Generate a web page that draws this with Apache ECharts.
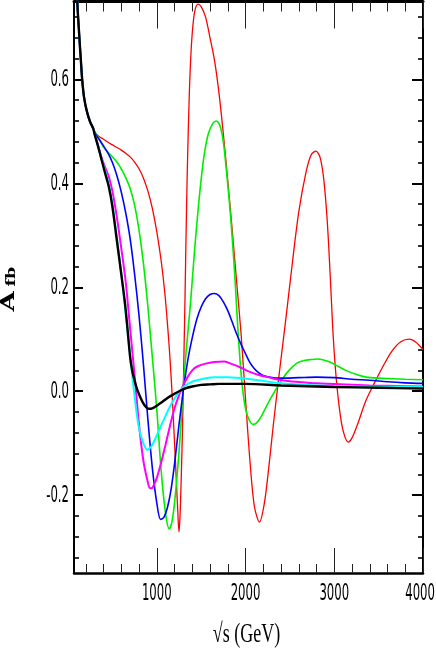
<!DOCTYPE html>
<html><head><meta charset="utf-8">
<script src="https://cdn.jsdelivr.net/npm/echarts@6/dist/echarts.min.js"></script>
<style>html,body{margin:0;padding:0;background:#fff;}#c{width:436px;height:654px;}</style>
</head><body><div id="c"></div>
<script>
// ---- axis ranges and ticks ----
const X_MIN = 67, X_MAX = 4000, Y_MIN = -0.35, Y_MAX = 0.75;
const xMajorTicks = [1000, 2000, 3000, 4000];
const xMinorTicks = [200, 400, 600, 800, 1200, 1400, 1600, 1800, 2200, 2400, 2600, 2800, 3200, 3400, 3600, 3800];
const yMajorTicks = [-0.2, 0.0, 0.2, 0.4, 0.6];
const yMinorTicks = [-0.32, -0.28, -0.24, -0.16, -0.12, -0.08, -0.04, 0.04, 0.08, 0.12, 0.16, 0.24, 0.28, 0.32, 0.36, 0.44, 0.48, 0.52, 0.56, 0.64, 0.68, 0.72];
const xTickLabels = ['1000', '2000', '3000', '4000'];
const yTickLabels = ['-0.2', '0.0', '0.2', '0.4', '0.6'];
const xAxisTitle = '√s (GeV)';
const yAxisTitleMain = 'A';
const yAxisTitleSub = 'fb';

// ---- curves: [sqrt(s) GeV, A_fb] ----
const common = [[75,1.1],[90,0.87],[104,0.751],[125,0.688],[145,0.635],[160,0.598],[180,0.566],[210,0.54],[247,0.519],[285,0.505]];
const red = [[300,0.498],[350,0.49],[400,0.485],[450,0.479],[500,0.474],[550,0.469],[600,0.464],[650,0.458],[700,0.451],[750,0.441],[800,0.428],[850,0.41],[900,0.385],[950,0.352],[1000,0.307],[1050,0.25],[1090,0.19],[1120,0.13],[1150,0.06],[1180,-0.03],[1210,-0.135],[1235,-0.225],[1250,-0.271],[1262,-0.24],[1275,-0.17],[1290,-0.07],[1305,0.06],[1320,0.2],[1335,0.35],[1350,0.47],[1367,0.575],[1385,0.65],[1405,0.7],[1430,0.733],[1465,0.745],[1500,0.74],[1550,0.72],[1600,0.68],[1650,0.637],[1700,0.575],[1750,0.495],[1800,0.405],[1850,0.31],[1900,0.21],[1950,0.11],[2000,-0.015],[2050,-0.135],[2100,-0.222],[2157,-0.252],[2210,-0.218],[2260,-0.15],[2310,-0.07],[2380,0.034],[2455,0.14],[2530,0.25],[2600,0.345],[2680,0.42],[2740,0.455],[2794,0.462],[2840,0.45],[2880,0.41],[2920,0.33],[2955,0.22],[2990,0.1],[3030,0.01],[3080,-0.06],[3120,-0.088],[3158,-0.098],[3200,-0.09],[3260,-0.065],[3357,-0.018],[3450,0.015],[3550,0.048],[3650,0.077],[3750,0.095],[3846,0.1],[3920,0.094],[4000,0.08]];
const green = [[300,0.5],[350,0.485],[400,0.47],[450,0.46],[500,0.451],[550,0.441],[600,0.428],[650,0.411],[700,0.39],[750,0.358],[800,0.31],[850,0.245],[900,0.162],[950,0.065],[1000,-0.035],[1050,-0.155],[1100,-0.237],[1141,-0.265],[1170,-0.252],[1200,-0.215],[1240,-0.14],[1270,-0.07],[1295,0.0],[1330,0.075],[1380,0.17],[1430,0.28],[1480,0.375],[1530,0.45],[1580,0.495],[1630,0.515],[1670,0.52],[1710,0.512],[1750,0.48],[1790,0.415],[1820,0.36],[1850,0.295],[1880,0.22],[1910,0.13],[1940,0.055],[1970,0.0],[2000,-0.033],[2040,-0.055],[2087,-0.064],[2130,-0.06],[2180,-0.048],[2230,-0.031],[2290,-0.012],[2350,0.006],[2420,0.025],[2500,0.042],[2580,0.054],[2660,0.059],[2740,0.061],[2813,0.062],[2880,0.06],[2950,0.056],[3040,0.048],[3130,0.04],[3250,0.032],[3360,0.027],[3500,0.025],[3660,0.024],[3800,0.023],[4000,0.022]];
const blue = [[300,0.497],[350,0.485],[400,0.472],[450,0.458],[500,0.44],[550,0.415],[600,0.383],[650,0.343],[700,0.293],[750,0.225],[800,0.145],[850,0.05],[900,-0.055],[950,-0.148],[1000,-0.215],[1043,-0.247],[1080,-0.243],[1120,-0.224],[1160,-0.19],[1200,-0.14],[1250,-0.065],[1298,0.0],[1350,0.06],[1400,0.103],[1450,0.138],[1500,0.162],[1550,0.178],[1600,0.186],[1650,0.188],[1700,0.184],[1750,0.172],[1800,0.155],[1850,0.133],[1900,0.11],[1950,0.09],[2000,0.072],[2050,0.055],[2100,0.043],[2150,0.035],[2200,0.03],[2300,0.026],[2400,0.025],[2600,0.026],[2800,0.027],[3000,0.026],[3200,0.023],[3400,0.021],[3600,0.018],[3800,0.016],[4000,0.015]];
const magenta = [[300,0.496],[340,0.472],[380,0.448],[420,0.43],[460,0.412],[500,0.385],[550,0.335],[600,0.275],[650,0.21],[700,0.12],[750,0.03],[800,-0.065],[850,-0.135],[900,-0.176],[923,-0.187],[950,-0.186],[1000,-0.167],[1050,-0.137],[1100,-0.102],[1150,-0.066],[1200,-0.033],[1250,-0.008],[1300,0.012],[1350,0.028],[1400,0.04],[1450,0.047],[1550,0.053],[1650,0.056],[1760,0.057],[1850,0.052],[1950,0.045],[2050,0.037],[2150,0.031],[2250,0.027],[2350,0.023],[2500,0.019],[2650,0.017],[2800,0.015],[3000,0.014],[3400,0.011],[3700,0.01],[4000,0.009]];
const cyan = [[300,0.494],[340,0.47],[380,0.445],[420,0.423],[460,0.397],[500,0.36],[550,0.295],[600,0.226],[650,0.148],[700,0.068],[740,0.005],[773,-0.042],[800,-0.072],[850,-0.101],[893,-0.113],[950,-0.103],[1000,-0.085],[1050,-0.066],[1100,-0.047],[1150,-0.029],[1200,-0.014],[1250,-0.002],[1300,0.008],[1370,0.016],[1450,0.021],[1550,0.025],[1650,0.027],[1800,0.027],[1900,0.026],[2150,0.021],[2400,0.015],[2800,0.011],[3200,0.009],[3600,0.0085],[4000,0.008]];
const black = [[300,0.494],[340,0.47],[380,0.444],[420,0.418],[460,0.393],[500,0.355],[550,0.29],[600,0.225],[641,0.17],[670,0.12],[698,0.068],[720,0.042],[740,0.027],[770,0.008],[800,-0.006],[840,-0.021],[880,-0.031],[910,-0.034],[950,-0.033],[1000,-0.028],[1060,-0.021],[1120,-0.013],[1200,-0.005],[1300,0.004],[1400,0.009],[1500,0.012],[1600,0.013],[1700,0.014],[2000,0.014],[2400,0.011],[3000,0.008],[3500,0.0065],[4000,0.005]];

const curves = [
  {name: 'red', data: red, color: '#ff0000', width: 1.3},
  {name: 'green', data: green, color: '#00ee00', width: 1.6},
  {name: 'blue', data: blue, color: '#0000ff', width: 1.6},
  {name: 'magenta', data: magenta, color: '#ff00ff', width: 2},
  {name: 'cyan', data: cyan, color: '#00ffff', width: 2},
  {name: 'black', data: black, color: '#000000', width: 2.4}
];

const chart = echarts.init(document.getElementById('c'), null, {renderer: 'canvas'});

function mkX(pos, ticks, len, line, lw) {
  return {type: 'value', min: X_MIN, max: X_MAX, position: pos,
    axisLine: {show: line, onZero: false, lineStyle: {color: '#000', width: lw}},
    axisTick: {show: true, inside: true, length: len, customValues: ticks, lineStyle: {color: '#222', width: 1}},
    axisLabel: {show: false}, splitLine: {show: false}, minorTick: {show: false}};
}
function mkY(pos, ticks, len, line, lw, tw) {
  return {type: 'value', min: Y_MIN, max: Y_MAX, position: pos,
    axisLine: {show: line, onZero: false, lineStyle: {color: '#000', width: lw}},
    axisTick: {show: true, inside: true, length: len, customValues: ticks, lineStyle: {color: '#000', width: tw}},
    axisLabel: {show: false}, splitLine: {show: false}, minorTick: {show: false}};
}

const option = {
  animation: false,
  backgroundColor: '#fff',
  grid: {left: 74, right: 13, top: 1.5, bottom: 81, containLabel: false},
  xAxis: [
    mkX('bottom', xMajorTicks, 25, true, 2.5),
    mkX('bottom', xMinorTicks, 9, false, 1),
    mkX('top', xMajorTicks, 27, true, 3),
    mkX('top', xMinorTicks, 10, false, 1)
  ],
  yAxis: [
    mkY('left', yMajorTicks, 9, true, 2, 2),
    mkY('left', yMinorTicks, 5, false, 1, 1.6),
    mkY('right', yMajorTicks, 11, true, 2, 2),
    mkY('right', yMinorTicks, 5, false, 1, 1.6)
  ],
  series: curves.map(c => ({
    name: c.name, type: 'line', xAxisIndex: 0, yAxisIndex: 0,
    data: common.concat(c.data), showSymbol: false, smooth: 0.3, clip: true, silent: true,
    lineStyle: {color: c.color, width: c.width}
  }))
};
chart.setOption(option);

// tick labels and axis titles (real text, placed from the axis scales)
const labelFont = '"Liberation Sans Narrow", "DejaVu Sans Condensed", "Arial Narrow", sans-serif';
const yBottom = chart.convertToPixel({yAxisIndex: 0}, Y_MIN);
const yTop = chart.convertToPixel({yAxisIndex: 0}, Y_MAX);
const xLeft = chart.convertToPixel({xAxisIndex: 0}, X_MIN);
const xRight = chart.convertToPixel({xAxisIndex: 0}, X_MAX);
const g = [];
xMajorTicks.forEach((v, i) => {
  const last = i === xMajorTicks.length - 1;
  g.push({type: 'text', x: last ? chart.getWidth() - 1 : chart.convertToPixel({xAxisIndex: 0}, v), y: yBottom + 21, scaleY: 1.75, silent: true,
    style: {text: xTickLabels[i], fontFamily: labelFont, fontSize: 13, fill: '#000', align: last ? 'right' : 'center', verticalAlign: 'middle'}});
});
yMajorTicks.forEach((v, i) => {
  g.push({type: 'text', x: xLeft - 5, y: chart.convertToPixel({yAxisIndex: 0}, v) + 1, scaleY: 1.75, silent: true,
    style: {text: yTickLabels[i], fontFamily: labelFont, fontSize: 13, fill: '#000', align: 'right', verticalAlign: 'middle'}});
});
g.push({type: 'text', x: (xLeft + xRight) / 2 - 2, y: yBottom + 62, scaleY: 1.5, silent: true,
  style: {text: xAxisTitle, fontFamily: '"Liberation Serif", "DejaVu Serif", serif', fontSize: 18, fill: '#000', align: 'center', verticalAlign: 'middle'}});
g.push({type: 'text', x: 9, y: (yTop + yBottom) / 2 + 2, rotation: Math.PI / 2, scaleX: 1.45, silent: true,
  style: {text: '{a|' + yAxisTitleMain + '} {b|' + yAxisTitleSub + '}', align: 'center', verticalAlign: 'middle',
    rich: {a: {fontFamily: '"DejaVu Serif", serif', fontWeight: 'bold', fontSize: 18, fill: '#000', verticalAlign: 'bottom'},
           b: {fontFamily: '"DejaVu Serif", serif', fontWeight: 'bold', fontSize: 12, fill: '#000', verticalAlign: 'bottom'}}}});
chart.setOption({graphic: g});
</script>
</body></html>
